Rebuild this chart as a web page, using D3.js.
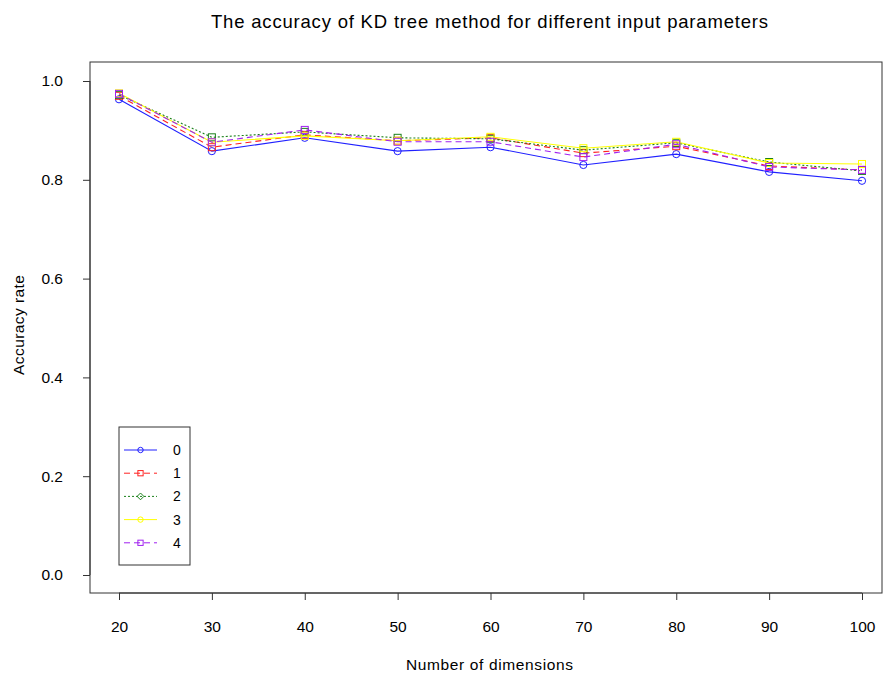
<!DOCTYPE html>
<html>
<head>
<meta charset="utf-8">
<script src="https://cdn.jsdelivr.net/npm/d3@7"></script>
<style>
  body { margin: 0; background: #fff; }
  text { font-family: "Liberation Sans", Arial, sans-serif; fill: #000; }
</style>
</head>
<body>
<svg id="chart" width="883" height="679"></svg>
<script>
// Dimensions tested and accuracy per parameter setting
const dimensions = [20, 30, 40, 50, 60, 70, 80, 90, 100];
const seriesNames = ["0", "1", "2", "3", "4"];
const acc0 = [0.963, 0.858, 0.885, 0.858, 0.866, 0.830, 0.852, 0.816, 0.798];
const acc1 = [0.970, 0.866, 0.891, 0.879, 0.885, 0.854, 0.868, 0.828, 0.820];
const acc2 = [0.972, 0.886, 0.897, 0.885, 0.883, 0.860, 0.875, 0.836, 0.818];
const acc3 = [0.975, 0.876, 0.889, 0.879, 0.887, 0.864, 0.877, 0.834, 0.832];
const acc4 = [0.974, 0.876, 0.901, 0.877, 0.877, 0.846, 0.872, 0.826, 0.820];
const yTicks = [0.0, 0.2, 0.4, 0.6, 0.8, 1.0];

const seriesValues = [acc0, acc1, acc2, acc3, acc4];
const styles = [
  { color: "#2020ff", dash: null,  plotShape: "circle", legendShape: "circle" },
  { color: "#ff2020", dash: "6,4", plotShape: "square", legendShape: "square" },
  { color: "#1a801a", dash: "2,2", plotShape: "square", legendShape: "diamond" },
  { color: "#ffff00", dash: null,  plotShape: "square", legendShape: "circle" },
  { color: "#a020f0", dash: "6,4", plotShape: "square", legendShape: "square" }
];

const svg = d3.select("#chart");
const frame = { left: 90, right: 882, top: 62, bottom: 593 };
const font = "Liberation Sans, Arial, sans-serif";

const x = d3.scaleLinear().domain([20, 100]).range([119, 862]);
const y = d3.scaleLinear().domain([0, 1]).range([575, 81]);

// plot frame
svg.append("rect")
  .attr("x", frame.left).attr("y", frame.top)
  .attr("width", frame.right - frame.left).attr("height", frame.bottom - frame.top)
  .attr("fill", "none").attr("stroke", "#333").attr("stroke-width", 1);

// x axis
const xAxis = d3.axisBottom(x).tickValues(dimensions).tickSize(7).tickPadding(21).tickFormat(d3.format("d"));
const gx = svg.append("g").attr("transform", `translate(0,${frame.bottom})`).call(xAxis);
gx.select(".domain").attr("d", `M${x(20)},0H${x(100)}`).attr("stroke", "#333");
gx.selectAll(".tick line").attr("stroke", "#333");
gx.selectAll("text").attr("font-size", 15.5).style("font-family", font);

// y axis
const yAxis = d3.axisLeft(y).tickValues(yTicks).tickSize(7).tickPadding(20).tickFormat(d3.format(".1f"));
const gy = svg.append("g").attr("transform", `translate(${frame.left},0)`).call(yAxis);
gy.select(".domain").attr("d", `M0,${y(0)}V${y(1)}`).attr("stroke", "#333");
gy.selectAll(".tick line").attr("stroke", "#333");
gy.selectAll("text").attr("font-size", 15.5).style("font-family", font);

// titles
svg.append("text").attr("x", 489.5).attr("y", 28).attr("text-anchor", "middle")
  .attr("font-size", 18.5).attr("textLength", 557).attr("lengthAdjust", "spacing")
  .text("The accuracy of KD tree method for different input parameters");
svg.append("text").attr("x", 489.5).attr("y", 670).attr("text-anchor", "middle")
  .attr("font-size", 15.5).attr("textLength", 167).attr("lengthAdjust", "spacing")
  .text("Number of dimensions");
svg.append("text").attr("transform", "translate(24,325) rotate(-90)").attr("text-anchor", "middle")
  .attr("font-size", 15.5).attr("textLength", 100).attr("lengthAdjust", "spacing")
  .text("Accuracy rate");

function marker(g, shape, cx, cy, color, size) {
  const k = size || 1;
  if (shape === "circle") {
    g.append("circle").attr("cx", cx).attr("cy", cy).attr("r", 3.6 * k)
      .attr("fill", "none").attr("stroke", color).attr("stroke-width", 1);
  } else if (shape === "square") {
    const h = 3.5 * k;
    g.append("rect").attr("x", cx - h).attr("y", cy - h).attr("width", 2 * h).attr("height", 2 * h)
      .attr("fill", "none").attr("stroke", color).attr("stroke-width", 1);
  } else {
    const h = 4.5 * k;
    g.append("path").attr("d", `M${cx},${cy - h}L${cx + h},${cy}L${cx},${cy + h}L${cx - h},${cy}Z`)
      .attr("fill", "none").attr("stroke", color).attr("stroke-width", 1);
  }
}

const line = d3.line().x((d, i) => x(dimensions[i])).y(d => y(d));

seriesValues.forEach((vals, s) => {
  const st = styles[s];
  const g = svg.append("g");
  g.append("path").datum(vals).attr("d", line)
    .attr("fill", "none").attr("stroke", st.color).attr("stroke-width", 1.1)
    .attr("stroke-dasharray", st.dash);
  vals.forEach((v, i) => marker(g, st.plotShape, x(dimensions[i]), y(v), st.color, 1));
});

// legend
const lg = svg.append("g");
lg.append("rect").attr("x", 119).attr("y", 427).attr("width", 71).attr("height", 138)
  .attr("fill", "#fff").attr("stroke", "#333").attr("stroke-width", 1);
seriesNames.forEach((name, s) => {
  const st = styles[s];
  const ly = 450 + s * 23.2;
  lg.append("line").attr("x1", 124).attr("x2", 157).attr("y1", ly).attr("y2", ly)
    .attr("stroke", st.color).attr("stroke-width", 1).attr("stroke-dasharray", st.dash);
  marker(lg, st.legendShape, 140.5, ly, st.color, 0.75);
  lg.append("text").attr("x", 173).attr("y", ly + 5).attr("font-size", 14).text(name);
});
</script>
</body>
</html>
